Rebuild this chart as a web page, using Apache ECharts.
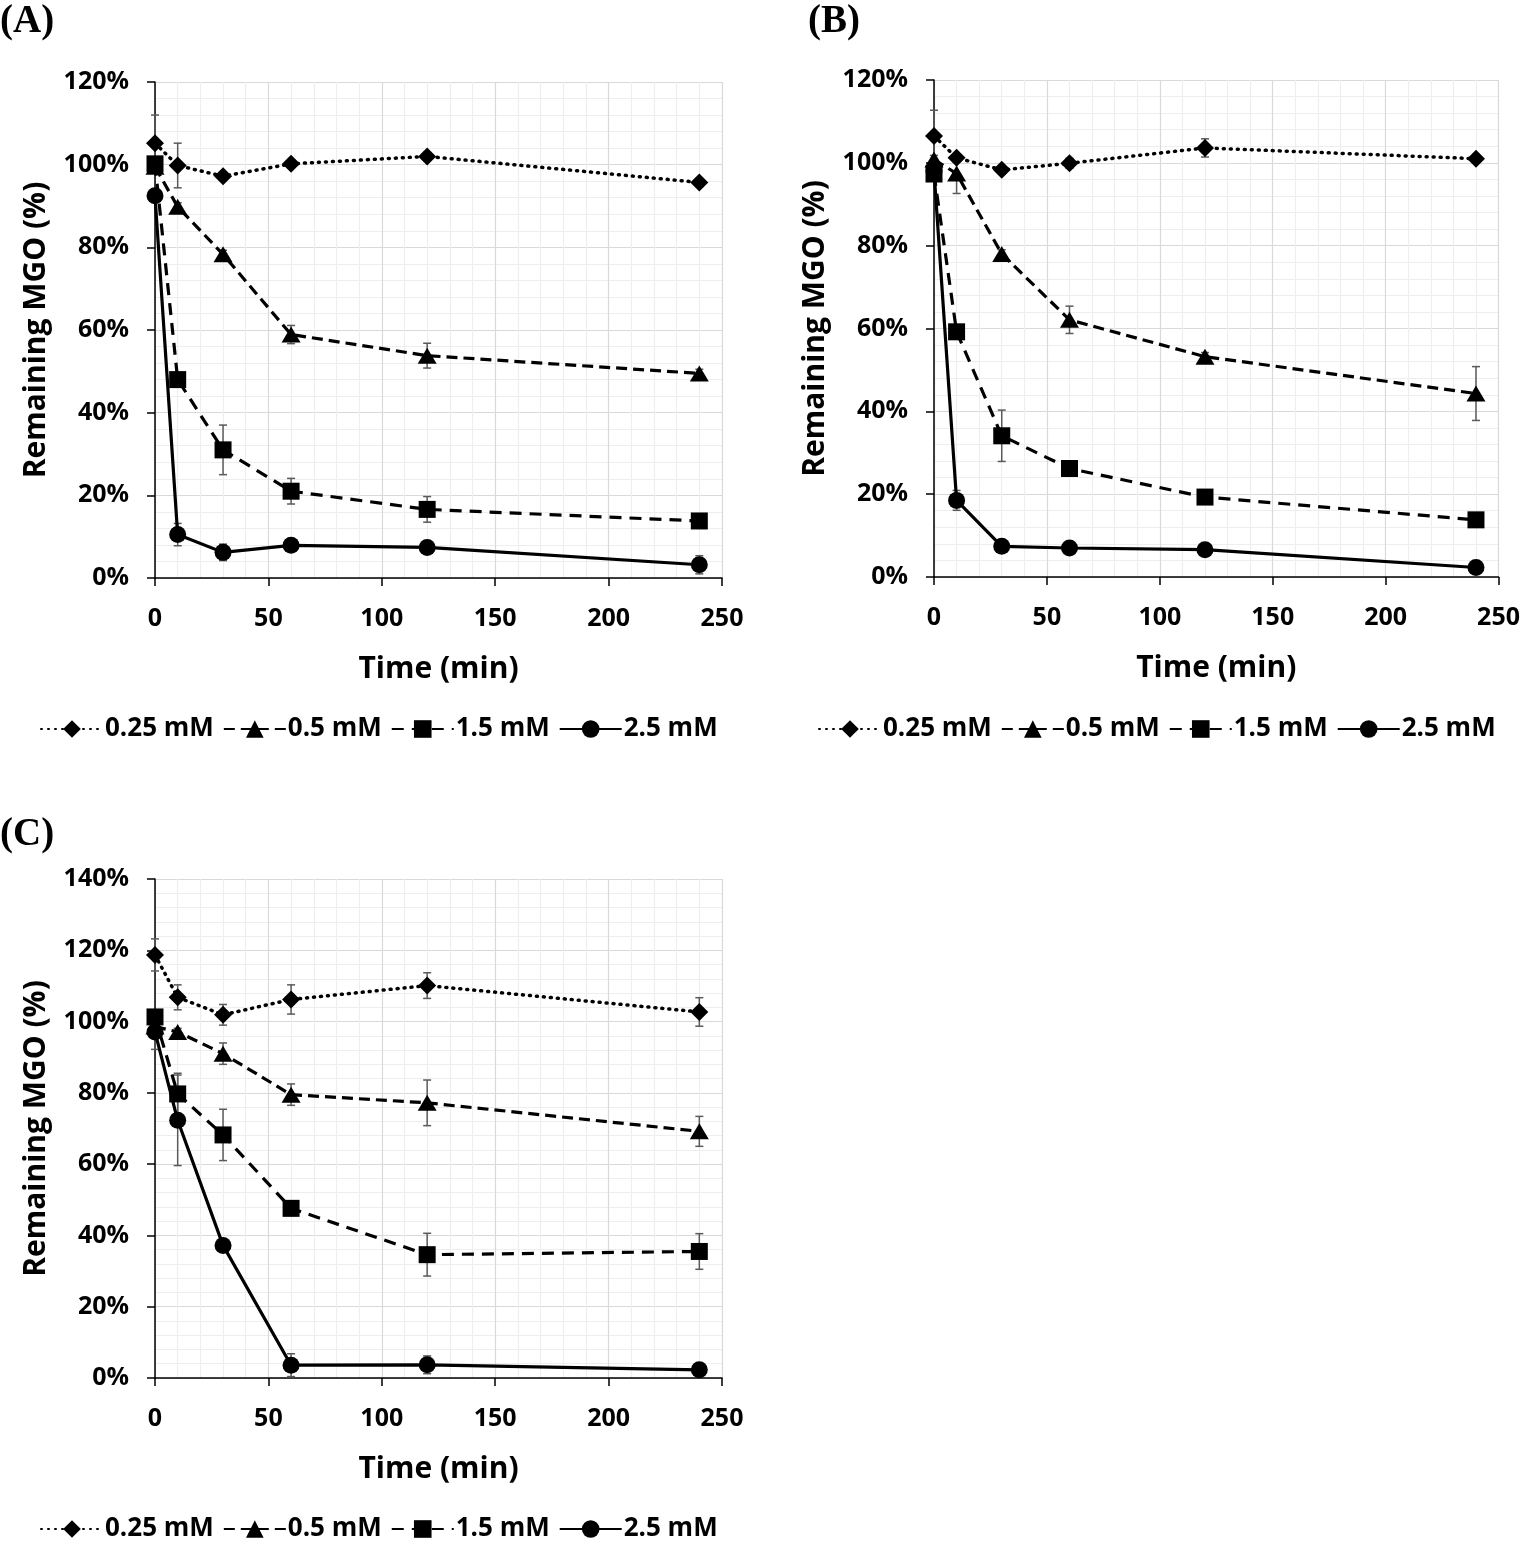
<!DOCTYPE html>
<html>
<head>
<meta charset="utf-8">
<script src="https://cdn.jsdelivr.net/npm/echarts@6/dist/echarts.min.js"></script>
<style>
html,body{margin:0;padding:0;background:#fff;}
#chart{width:1523px;height:1549px;}
</style>
</head>
<body>
<div id="chart"></div>
<script>
// ---- data ----
const times = [0, 10, 30, 60, 120, 240];
const seriesNames = ['0.25 mM', '0.5 mM', '1.5 mM', '2.5 mM'];
const panelLabels = ['(A)', '(B)', '(C)'];
const xTitle = 'Time (min)';
const yTitle = 'Remaining MGO (%)';

// Panel A
const a025 = [105.2, 99.8, 97.2, 100.2, 102.0, 95.7];
const a05  = [99.5, 89.8, 78.3, 58.9, 53.8, 49.5];
const a15  = [100.2, 48.0, 31.0, 21.0, 16.6, 13.8];
const a25  = [92.5, 10.5, 6.2, 7.9, 7.4, 3.2];
const ea025 = [6.8, 5.4, 1.0, 1.0, 1.0, 1.0];
const ea05  = [1.0, 1.0, 1.0, 2.2, 3.0, 1.0];
const ea15  = [1.0, 1.0, 6.0, 3.1, 3.1, 1.0];
const ea25  = [1.0, 2.7, 2.0, 1.0, 1.0, 2.2];

// Panel B
const b025 = [106.5, 101.2, 98.3, 99.9, 103.6, 101.0];
const b05  = [100.8, 97.4, 78.0, 62.1, 53.2, 44.3];
const b15  = [97.3, 59.2, 34.1, 26.2, 19.3, 13.8];
const b25  = [98.0, 18.5, 7.4, 7.0, 6.6, 2.3];
const eb025 = [6.2, 1.0, 1.0, 1.2, 2.2, 1.0];
const eb05  = [1.0, 4.8, 1.0, 3.3, 1.0, 6.5];
const eb15  = [1.0, 1.0, 6.2, 1.0, 1.0, 1.0];
const eb25  = [1.0, 2.4, 1.0, 1.0, 1.0, 1.0];

// Panel C
const c025 = [118.7, 106.8, 101.9, 106.2, 110.1, 102.7];
const c05  = [98.6, 97.1, 91.0, 79.5, 77.2, 69.2];
const c15  = [101.3, 79.7, 68.2, 47.6, 34.6, 35.5];
const c25  = [97.1, 72.3, 37.2, 3.6, 3.7, 2.3];
const ec025 = [4.5, 3.5, 2.9, 4.1, 3.6, 4.0];
const ec05  = [1.0, 1.0, 3.0, 3.0, 6.4, 4.2];
const ec15  = [1.0, 5.8, 7.2, 2.0, 6.0, 5.0];
const ec25  = [4.9, 12.7, 1.0, 3.2, 2.5, 1.0];

const yMax = [120, 120, 140];

// ---- styles ----
const FONT = 'Open Sans';
const styles = [
  {symbol: 'diamond', size: [18, 18], line: [1, 6], cap: 'round', width: 3.5},
  {symbol: 'triangle', size: [19, 16], line: [11, 6], cap: 'butt', width: 3.2},
  {symbol: 'rect', size: [17, 17], line: [12, 8], cap: 'butt', width: 3.2},
  {symbol: 'circle', size: [17, 17], line: 'solid', cap: 'butt', width: 3.2}
];
const grids = [
  {left: 155, top: 82, width: 567, height: 496},
  {left: 934, top: 80, width: 566, height: 497},
  {left: 155, top: 879, width: 567, height: 499}
];
const panels = [
  {vals: [a025, a05, a15, a25], errs: [ea025, ea05, ea15, ea25]},
  {vals: [b025, b05, b15, b25], errs: [eb025, eb05, eb15, eb25]},
  {vals: [c025, c05, c15, c25], errs: [ec025, ec05, ec15, ec25]}
];

const xAxes = grids.map((g, i) => ({
  type: 'value', gridIndex: i, min: 0, max: 250, interval: 50,
  name: xTitle, nameLocation: 'middle', nameGap: 76,
  nameTextStyle: {fontFamily: FONT, fontWeight: 'bold', fontSize: 30, color: '#000'},
  axisLine: {lineStyle: {color: '#000', width: 1.5}},
  axisTick: {show: true, length: 8, lineStyle: {color: '#000', width: 1.5}},
  axisLabel: {fontFamily: FONT, fontWeight: 'bold', fontSize: 25, color: '#000', margin: 28},
  splitLine: {show: true, lineStyle: {color: '#d9d9d9', width: 1.2}},
  minorTick: {show: true, splitNumber: 5, length: 0},
  minorSplitLine: {show: true, lineStyle: {color: '#eeeeee', width: 1.2}}
}));
const yAxes = grids.map((g, i) => ({
  type: 'value', gridIndex: i, min: 0, max: yMax[i], interval: 20,
  name: yTitle, nameLocation: 'middle', nameGap: 104, nameRotate: 90,
  nameTextStyle: {fontFamily: FONT, fontWeight: 'bold', fontSize: 30, color: '#000'},
  axisLine: {show: true, lineStyle: {color: '#000', width: 1.5}},
  axisTick: {show: true, length: 8, lineStyle: {color: '#000', width: 1.5}},
  axisLabel: {fontFamily: FONT, fontWeight: 'bold', fontSize: 25, color: '#000', margin: 26, formatter: '{value}%'},
  splitLine: {show: true, lineStyle: {color: '#d9d9d9', width: 1.2}},
  minorTick: {show: true, splitNumber: 5, length: 0},
  minorSplitLine: {show: true, lineStyle: {color: '#eeeeee', width: 1.2}}
}));

function errSeries(pi, si, vals, errs) {
  return {
    type: 'custom', name: 'err' + pi + '_' + si, xAxisIndex: pi, yAxisIndex: pi,
    silent: true, z: 2, animation: false,
    encode: {x: 0, y: 1},
    data: times.map((t, k) => [t, vals[k], errs[k]]),
    renderItem: function (params, api) {
      const x = api.value(0), y = api.value(1), e = api.value(2);
      const top = api.coord([x, y + e]);
      const bot = api.coord([x, y - e]);
      const w = 4;
      const st = {stroke: '#5a5a5a', lineWidth: 1.5};
      return {type: 'group', children: [
        {type: 'line', shape: {x1: top[0], y1: top[1], x2: bot[0], y2: bot[1]}, style: st},
        {type: 'line', shape: {x1: top[0] - w, y1: top[1], x2: top[0] + w, y2: top[1]}, style: st},
        {type: 'line', shape: {x1: bot[0] - w, y1: bot[1], x2: bot[0] + w, y2: bot[1]}, style: st}
      ]};
    }
  };
}

const series = [];
panels.forEach((p, pi) => {
  p.vals.forEach((v, si) => series.push(errSeries(pi, si, v, p.errs[si])));
  p.vals.forEach((v, si) => {
    const s = styles[si];
    series.push({
      type: 'line', name: seriesNames[si], xAxisIndex: pi, yAxisIndex: pi,
      data: times.map((t, k) => [t, v[k]]),
      symbol: s.symbol, symbolSize: s.size, showSymbol: true, z: 3 + si,
      itemStyle: {color: '#000'},
      lineStyle: {color: '#000', width: s.width, type: s.line, cap: s.cap},
      animation: false
    });
  });
});

const legendBase = {
  data: seriesNames, orient: 'horizontal', itemWidth: 62, itemHeight: 22, itemGap: 9,
  padding: 0, selectedMode: false,
  textStyle: {fontFamily: FONT, fontWeight: 'bold', fontSize: 26, color: '#000', padding: [0, 0, 0, -3]}
};
const legends = [
  Object.assign({}, legendBase, {left: 40, top: 716}),
  Object.assign({}, legendBase, {left: 818, top: 716}),
  Object.assign({}, legendBase, {left: 40, top: 1516})
];

const labelPos = [[0, 2], [808, 2], [0, 815]];
const graphic = panelLabels.map((t, i) => ({
  type: 'text', left: labelPos[i][0], top: labelPos[i][1],
  style: {text: t, fontFamily: 'Liberation Serif', fontWeight: 'bold', fontSize: 39, fill: '#000'}
}));

const chart = echarts.init(document.getElementById('chart'), null, {renderer: 'canvas'});
chart.setOption({
  backgroundColor: '#fff',
  animation: false,
  grid: grids,
  xAxis: xAxes,
  yAxis: yAxes,
  legend: legends,
  graphic: graphic,
  series: series
});
</script>
</body>
</html>
